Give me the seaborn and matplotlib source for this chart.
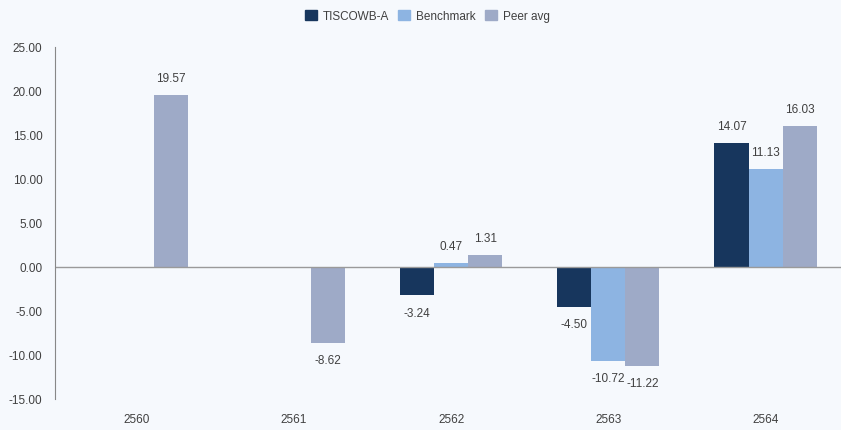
import pandas as pd
import numpy as np
import matplotlib.pyplot as plt
import seaborn as sns

# ---- data ----
years = ["2560", "2561", "2562", "2563", "2564"]
fund = [np.nan, np.nan, -3.24, -4.50, 14.07]
benchmark = [np.nan, np.nan, 0.47, -10.72, 11.13]
peer_avg = [19.57, -8.62, 1.31, -11.22, 16.03]

series_names = ["TISCOWB-A", "Benchmark", "Peer avg"]
colors = ["#17365D", "#8DB4E2", "#9EAAC7"]
y_ticks = [-15, -10, -5, 0, 5, 10, 15, 20, 25]

df = pd.DataFrame({
    "year": years * 3,
    "series": np.repeat(series_names, len(years)),
    "value": fund + benchmark + peer_avg,
})

bg = "#F6F9FD"
sns.set_style("white")
plt.rcParams["font.family"] = ["Liberation Sans", "DejaVu Sans"]

fig = plt.figure(figsize=(8.41, 4.31), dpi=100, facecolor=bg)
ax = fig.add_axes([0.0654, 0.072, 0.9346, 0.817])
ax.set_facecolor(bg)

sns.barplot(data=df, x="year", y="value", hue="series", order=years,
            hue_order=series_names, palette=colors, width=0.65,
            saturation=1, linewidth=0, ax=ax)

# value labels above / below the bars
for cont in ax.containers:
    ax.bar_label(cont, fmt="%.2f", padding=8, fontsize=8.5, color="#404040")

ax.axhline(0, color="#9a9a9a", linewidth=1)
ax.set_ylim(-15, 25)
ax.set_xlim(-0.52, 4.48)
ax.set_yticks(y_ticks)
ax.set_yticklabels([f"{t:.2f}" for t in y_ticks])
ax.set_xlabel("")
ax.set_ylabel("")
ax.tick_params(axis="both", length=0, labelsize=8.5, colors="#404040")
ax.tick_params(axis="y", pad=9)
ax.tick_params(axis="x", pad=10)

for side in ["top", "right", "bottom"]:
    ax.spines[side].set_visible(False)
ax.spines["left"].set_color("#888888")
ax.spines["left"].set_linewidth(0.8)

ax.legend_.remove()
handles = [plt.Rectangle((0, 0), 1, 1, color=c) for c in colors]
fig.legend(handles, series_names, loc="upper center", bbox_to_anchor=(0.508, 1.0),
           ncol=3, frameon=False, fontsize=8.5, handlelength=1.0, handleheight=1.0,
           handletextpad=0.5, columnspacing=0.8, labelcolor="#404040")

fig.savefig("out.png", dpi=100, facecolor=bg)
